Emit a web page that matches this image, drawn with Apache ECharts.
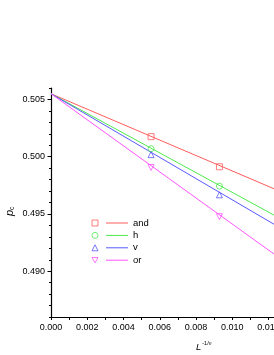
<!DOCTYPE html>
<html><head><meta charset="utf-8">
<script src="https://cdn.jsdelivr.net/npm/echarts@6/dist/echarts.min.js"></script>
<style>html,body{margin:0;padding:0;background:#fff}#c{width:274px;height:355px}</style>
</head><body><div id="c"></div>
<script>
// data
const seriesNames = ['and', 'h', 'v', 'or'];
const colors = ['#ff5c5c', '#4fe84f', '#5858ff', '#ff55ff'];
const symbols = ['rect', 'circle', 'triangle', 'path://M0,0 L10,0 L5,9 Z'];
const xPoints = [0.00552, 0.00929];
const yPoints = {
  and: [0.50175, 0.49912],
  h:   [0.50070, 0.49743],
  v:   [0.50018, 0.49667],
  or:  [0.49906, 0.49476]
};
// fitted lines: value at x=0 and at right edge of the axis
const fitX = [0, 0.0123];
const fitY = {
  and: [0.5055, 0.4972],
  h:   [0.5055, 0.4949],
  v:   [0.5055, 0.4941],
  or:  [0.5055, 0.4915]
};
const xLabels = [0, 0.002, 0.004, 0.006, 0.008, 0.010, 0.012];
const xTicks = [0, 0.001, 0.002, 0.003, 0.004, 0.005, 0.006, 0.007, 0.008, 0.009, 0.010, 0.011, 0.012];
const yLabels = [0.490, 0.495, 0.500, 0.505];
const yMinorTicks = [0.486, 0.487, 0.488, 0.489, 0.490, 0.491, 0.492, 0.493, 0.494, 0.495, 0.496, 0.497, 0.498, 0.499, 0.500, 0.501, 0.502, 0.503, 0.504, 0.505, 0.506];

const FONT = '"Liberation Sans", Arial, sans-serif';
const series = [];
seriesNames.forEach((n, i) => {
  series.push({
    name: n,
    type: 'line',
    data: fitX.map((x, k) => [x, fitY[n][k]]),
    symbol: 'none',
    showSymbol: false,
    lineStyle: { color: colors[i], width: 1 },
    itemStyle: { color: colors[i] },
    silent: true,
    z: 2
  });
  series.push({
    name: n + '_pt',
    type: 'scatter',
    data: xPoints.map((x, k) => [x, yPoints[n][k]]),
    symbol: symbols[i],
    symbolSize: 6,
    itemStyle: { color: 'rgba(255,255,255,0)', borderColor: colors[i], borderWidth: 1 },
    silent: true,
    z: 3
  });
});

const chart = echarts.init(document.getElementById('c'), null, { renderer: 'canvas' });
chart.setOption({
  animation: false,
  backgroundColor: '#fff',
  grid: { left: 51, right: 0, top: 88, bottom: 38, containLabel: false, outerBoundsMode: 'none' },
  xAxis: {
    type: 'value', min: 0, max: 0.0123,
    axisLine: { show: true, lineStyle: { color: '#000', width: 1.2 } },
    axisTick: { show: true, customValues: xTicks, length: 3, inside: false, lineStyle: { color: '#000', width: 1 } },
    axisLabel: { customValues: xLabels, formatter: v => v.toFixed(3), color: '#000', fontSize: 9, fontFamily: FONT, margin: 6,
                 alignMinLabel: 'center', alignMaxLabel: 'center', hideOverlap: false },
    splitLine: { show: false }
  },
  yAxis: [{
    type: 'value', min: 0.486, max: 0.506, position: 'left',
    axisLine: { show: true, lineStyle: { color: '#000', width: 1.2 } },
    axisTick: { show: true, customValues: yLabels, length: 3.5, lineStyle: { color: '#000', width: 1 } },
    axisLabel: { customValues: yLabels, formatter: v => v.toFixed(3), color: '#000', fontSize: 9, fontFamily: FONT, margin: 6 },
    splitLine: { show: false }
  }, {
    type: 'value', min: 0.486, max: 0.506, position: 'left', offset: 0,
    axisLine: { show: false },
    axisTick: { show: true, customValues: yMinorTicks, length: 2, lineStyle: { color: '#000', width: 1 } },
    axisLabel: { show: false },
    splitLine: { show: false }
  }],
  legend: [{
    data: seriesNames.map(n => n + '_pt'),
    orient: 'vertical', left: 86.5, top: 212,
    itemWidth: 6, itemHeight: 6, itemGap: 0.4,
    formatter: () => ' ',
    textStyle: { fontSize: 9.5, lineHeight: 12, fontFamily: FONT },
    itemStyle: { borderWidth: 1 },
    selectedMode: false
  }, {
    data: seriesNames,
    orient: 'vertical', left: 101, top: 212,
    icon: 'rect',
    itemWidth: 22, itemHeight: 1, itemGap: 0.4,
    textStyle: { fontSize: 9.5, lineHeight: 12, color: '#000', fontFamily: FONT },
    selectedMode: false
  }],
  graphic: [{
    type: 'text', left: 196, top: 340,
    style: {
      text: '{l|L}{s|-1/\u03bd}',
      rich: {
        l: { fontSize: 9.5, fontStyle: 'italic', fontFamily: FONT, fill: '#000', lineHeight: 12, verticalAlign: 'bottom' },
        s: { fontSize: 5.5, fontFamily: FONT, fill: '#000', verticalAlign: 'top', lineHeight: 12, padding: [0, 0, 5, 1] }
      }
    }
  }, {
    type: 'text', x: 3, y: 216, rotation: Math.PI / 2,
    style: {
      text: '{p|p}{c|c}',
      rich: {
        p: { fontSize: 11, fontStyle: 'italic', fontFamily: FONT, fill: '#000', lineHeight: 13 },
        c: { fontSize: 7, fontFamily: FONT, fill: '#000', lineHeight: 13, verticalAlign: 'bottom', padding: [5, 0, 0, 0] }
      }
    }
  }],
  series: series
});
</script></body></html>
